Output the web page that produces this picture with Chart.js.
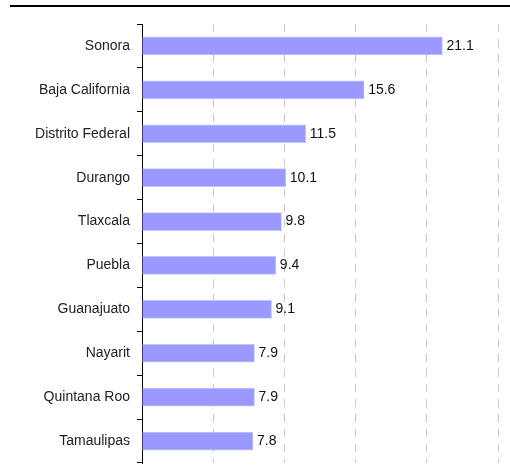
<!DOCTYPE html>
<html>
<head>
<meta charset="utf-8">
<script src="https://cdn.jsdelivr.net/npm/chart.js@4/dist/chart.umd.min.js"></script>
<style>
  html, body { margin: 0; padding: 0; background: #fff; }
  #wrap { position: relative; width: 510px; height: 471px; }
  #topline { position: absolute; left: 10px; top: 5px; width: 500px; border-top: 2px solid #000; }
  #myChart { position: absolute; left: 0; top: 0; }
</style>
</head>
<body>
<div id="wrap">
  <div id="topline"></div>
  <canvas id="myChart" width="510" height="471"></canvas>
</div>
<script>
// 데이터
var estados = ['Sonora', 'Baja California', 'Distrito Federal', 'Durango', 'Tlaxcala',
               'Puebla', 'Guanajuato', 'Nayarit', 'Quintana Roo', 'Tamaulipas'];
var valores = [21.1, 15.6, 11.5, 10.1, 9.8, 9.4, 9.1, 7.9, 7.9, 7.8];
var ejeMax = 25;
var ejePaso = 5;

var fuente = '"Liberation Sans", Arial, sans-serif';

// 막대 끝에 값 표시
var valorLabels = {
  id: 'valorLabels',
  afterDatasetsDraw: function(chart){
    var ctx = chart.ctx;
    var meta = chart.getDatasetMeta(0);
    ctx.save();
    ctx.font = '14px ' + fuente;
    ctx.fillStyle = '#111';
    ctx.textAlign = 'left';
    ctx.textBaseline = 'middle';
    meta.data.forEach(function(bar, i){
      ctx.fillText(valores[i].toFixed(1), bar.x + 4, bar.y);
    });
    ctx.restore();
  }
};

const ctx = document.getElementById('myChart');
new Chart(ctx, {
  type: 'bar',
  data: {
    labels: estados,
    datasets: [{
      data: valores,
      backgroundColor: '#9999ff',
      borderColor: '#c4c4ff',
      borderWidth: 1,
      borderSkipped: 'start',
      barThickness: 18
    }]
  },
  options: {
    indexAxis: 'y',
    responsive: false,
    animation: false,
    layout: { padding: { top: 24, bottom: 8, right: 12, left: 0 } },
    plugins: { legend: { display: false }, tooltip: { enabled: false } },
    scales: {
      x: {
        min: 0,
        max: ejeMax,
        afterFit: function(scale){ scale.height = 0; scale.paddingLeft = 0; scale.paddingRight = 0; },
        ticks: { display: false, stepSize: ejePaso },
        grid: {
          drawTicks: false,
          lineWidth: 1,
          color: function(c){ return c.tick && c.tick.value === 0 ? 'rgba(0,0,0,0)' : '#c8c8c8'; }
        },
        border: { display: false, dash: [8, 7] }
      },
      y: {
        afterFit: function(scale){ scale.width = 142; scale.paddingTop = 0; scale.paddingBottom = 0; },
        ticks: {
          color: '#222',
          padding: 7,
          font: { family: fuente, size: 14 }
        },
        grid: {
          offset: true,
          drawOnChartArea: false,
          drawTicks: true,
          tickLength: 5,
          tickColor: '#000'
        },
        border: { display: true, color: '#000', width: 1 }
      }
    }
  },
  plugins: [valorLabels]
});
</script>
</body>
</html>
